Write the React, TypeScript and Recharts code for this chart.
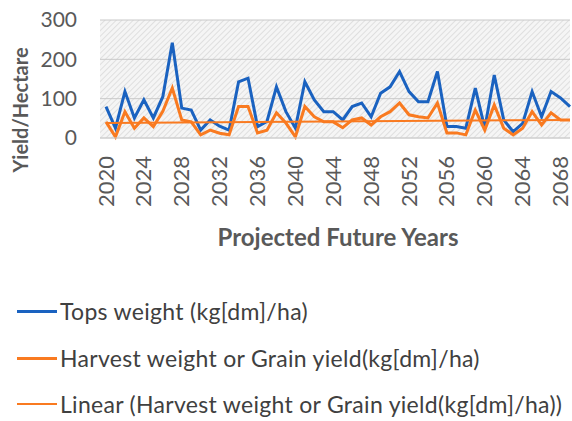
import { ComposedChart, Line, XAxis, YAxis, CartesianGrid, ReferenceLine } from 'recharts';

const years = [
  2020, 2021, 2022, 2023, 2024, 2025, 2026, 2027, 2028, 2029,
  2030, 2031, 2032, 2033, 2034, 2035, 2036, 2037, 2038, 2039,
  2040, 2041, 2042, 2043, 2044, 2045, 2046, 2047, 2048, 2049,
  2050, 2051, 2052, 2053, 2054, 2055, 2056, 2057, 2058, 2059,
  2060, 2061, 2062, 2063, 2064, 2065, 2066, 2067, 2068, 2069,
];

const topsWeight = [
  80, 25, 118, 51, 97, 51, 105, 242, 76, 71,
  20, 46, 30, 20, 143, 152, 29, 42, 130, 67,
  25, 143, 97, 67, 67, 46, 80, 89, 54, 114,
  130, 169, 118, 92, 92, 169, 29, 29, 25, 127,
  25, 160, 46, 16, 37, 118, 54, 118, 102, 80,
];

const harvestWeight = [
  41, 3, 67, 25, 51, 29, 68, 127, 46, 41,
  8, 20, 12, 8, 80, 80, 13, 20, 64, 38,
  3, 80, 54, 41, 41, 26, 46, 51, 33, 54,
  67, 89, 59, 54, 51, 89, 13, 13, 8, 71,
  20, 84, 25, 8, 25, 67, 33, 64, 46, 46,
];

// linear trend of harvest weight, end points
const trendStart = 38;
const trendEnd = 46;

const xTicks = [2020, 2024, 2028, 2032, 2036, 2040, 2044, 2048, 2052, 2056, 2060, 2064, 2068];
const yTicks = [0, 100, 200, 300];

const legendItems = [
  { label: 'Tops weight (kg[dm]/ha)', color: '#1a62c0', width: 3, top: 311 },
  { label: 'Harvest weight or Grain yield(kg[dm]/ha)', color: '#f97a20', width: 3, top: 358 },
  { label: 'Linear (Harvest weight or Grain yield(kg[dm]/ha))', color: '#f97a20', width: 2, top: 404 },
];

const data = years.map((year, i) => ({
  year,
  tops: topsWeight[i],
  harvest: harvestWeight[i],
}));

const FONT = 'Lato, "Open Sans", sans-serif';

const YearTick = ({ x, y, payload }: any) => (
  <text
    x={x - 1}
    y={y}
    transform={`rotate(-90 ${x - 1} ${y})`}
    textAnchor="end"
    dominantBaseline="central"
    fill="#595959"
    fontSize={22}
    fontFamily={FONT}
  >
    {payload.value}
  </text>
);

export default function App() {
  return (
    <div style={{ position: 'absolute', left: 0, top: 0, width: 572, height: 421, background: '#fff', fontFamily: FONT, overflow: 'hidden' }}>
      <ComposedChart
        width={572}
        height={421}
        data={data}
        margin={{ top: 20, right: 2, bottom: 183, left: 0 }}
      >
        <defs>
          <pattern id="hatch" width="4" height="4" patternUnits="userSpaceOnUse" patternTransform="rotate(45)">
            <rect width="4" height="4" fill="#f5f5f5" />
            <line x1="0" y1="0" x2="0" y2="4" stroke="#d8d8d8" strokeWidth="1.5" />
          </pattern>
        </defs>
        <CartesianGrid vertical={false} stroke="#c9c9c9" fill="url(#hatch)" fillOpacity={1} />
        <XAxis
          dataKey="year"
          type="number"
          domain={[2020, 2069]}
          ticks={xTicks}
          interval={0}
          padding={{ left: 6, right: 0 }}
          tick={<YearTick />}
          tickLine={false}
          tickSize={0}
          tickMargin={18}
          axisLine={{ stroke: '#d0d0d0' }}
          height={100}
        />
        <YAxis
          type="number"
          domain={[0, 300]}
          ticks={yTicks}
          width={100}
          tickLine={false}
          tickSize={6}
          tickMargin={17}
          axisLine={false}
          tick={{ fill: '#595959', fontSize: 21, fontFamily: FONT }}
        />
        <Line
          type="linear"
          dataKey="tops"
          stroke="#1a62c0"
          strokeWidth={3}
          dot={false}
          activeDot={false}
          isAnimationActive={false}
        />
        <Line
          type="linear"
          dataKey="harvest"
          stroke="#f97a20"
          strokeWidth={3}
          dot={false}
          activeDot={false}
          isAnimationActive={false}
        />
        <ReferenceLine
          segment={[{ x: 2020, y: trendStart }, { x: 2069, y: trendEnd }]}
          stroke="#f97a20"
          strokeWidth={2}
          ifOverflow="visible"
        />
      </ComposedChart>

      <div
        style={{
          position: 'absolute',
          left: 20,
          top: 110,
          transform: 'translate(-50%, -50%) rotate(-90deg)',
          fontSize: 20,
          fontWeight: 700,
          color: '#595959',
          whiteSpace: 'nowrap',
        }}
      >
        Yield/Hectare
      </div>

      <div
        style={{
          position: 'absolute',
          left: 98,
          width: 480,
          top: 222,
          textAlign: 'center',
          fontSize: 24,
          fontWeight: 700,
          color: '#595959',
          whiteSpace: 'nowrap',
        }}
      >
        Projected Future Years
      </div>

      {legendItems.map((item) => (
        <div
          key={item.label}
          style={{
            position: 'absolute',
            left: 17,
            top: item.top,
            transform: 'translateY(-50%)',
            display: 'flex',
            alignItems: 'center',
          }}
        >
          <div style={{ width: 40, height: item.width, background: item.color, marginRight: 3 }} />
          <span style={{ fontSize: 23, letterSpacing: 0.3, lineHeight: '28px', color: '#404040', whiteSpace: 'nowrap' }}>{item.label}</span>
        </div>
      ))}
    </div>
  );
}
